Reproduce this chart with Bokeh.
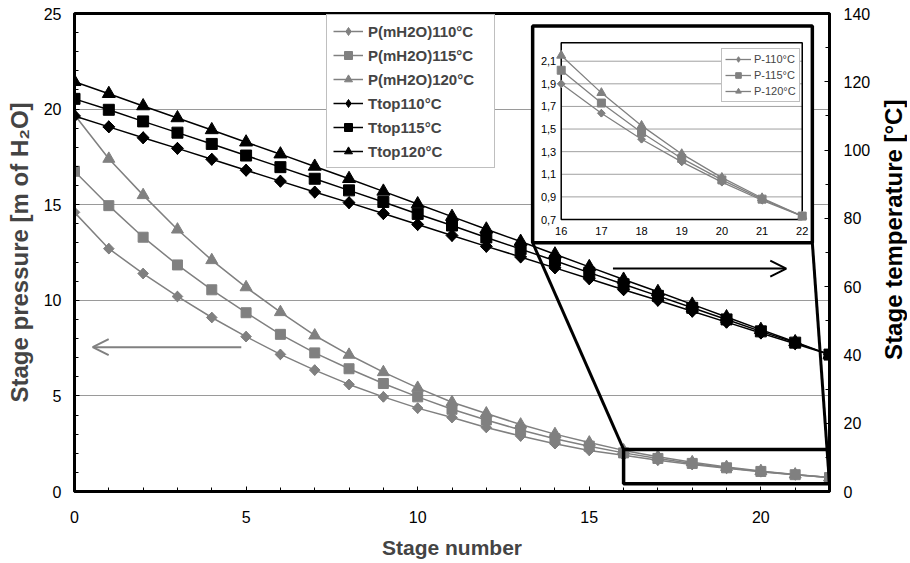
import numpy as np
from bokeh.plotting import figure
from bokeh.layouts import row
from bokeh.models import (Range1d, LinearAxis, SingleIntervalTicker, Legend, LegendItem,
                          Arrow, OpenHead)
from bokeh.embed import file_html
from bokeh.resources import INLINE
from bokeh.core.properties import value

# ---------------- data ----------------
stages = list(range(23))
p110 = [14.6, 12.7, 11.4, 10.2, 9.1, 8.1, 7.17, 6.35, 5.6, 4.95, 4.36, 3.87, 3.35, 2.9, 2.5, 2.15,
        1.90, 1.64, 1.41, 1.21, 1.03, 0.87, 0.73]
p115 = [16.75, 14.95, 13.3, 11.85, 10.55, 9.35, 8.22, 7.25, 6.42, 5.65, 4.95, 4.3, 3.74, 3.22, 2.76, 2.37,
        2.02, 1.73, 1.47, 1.24, 1.05, 0.88, 0.73]
p120 = [19.7, 17.4, 15.5, 13.7, 12.1, 10.68, 9.38, 8.16, 7.15, 6.24, 5.42, 4.67, 4.08, 3.5, 3.0, 2.56,
        2.15, 1.82, 1.53, 1.28, 1.07, 0.89, 0.73]
t110 = [110.0, 106.8, 103.6, 100.5, 97.3, 94.1, 90.9, 87.7, 84.6, 81.4, 78.2, 75.0, 71.8, 68.7, 65.5,
        62.3, 59.1, 56.0, 52.8, 49.6, 46.4, 43.3, 40.1]
t115 = [115.0, 111.8, 108.4, 105.1, 101.8, 98.4, 95.0, 91.6, 88.2, 84.8, 81.3, 77.9, 74.4, 71.0, 67.6,
        64.1, 60.7, 57.3, 53.8, 50.4, 46.9, 43.6, 40.1]
t120 = [120.0, 116.5, 112.9, 109.4, 105.9, 102.3, 98.8, 95.2, 91.6, 87.9, 84.2, 80.5, 76.8, 73.2, 69.5,
        65.8, 62.1, 58.5, 54.8, 51.1, 47.4, 43.8, 40.1]
labels_main = ["P(mH2O)110°C", "P(mH2O)115°C", "P(mH2O)120°C", "Ttop110°C", "Ttop115°C", "Ttop120°C"]
right_title = "Stage temperature [°C]"

inset_first = 16
inset_yticks = [0.7, 0.9, 1.1, 1.3, 1.5, 1.7, 1.9, 2.1]
inset_xticks = [16, 17, 18, 19, 20, 21, 22]
labels_inset = ["P-110°C", "P-115°C", "P-120°C"]

FONT = "Liberation Sans"
GRAY = "#808080"
FIG_H = 558

# ---------------- main figure ----------------
p = figure(frame_width=755, frame_height=478, x_range=Range1d(0, 22), y_range=Range1d(0, 25),
           output_backend="svg", toolbar_location=None,
           min_border_left=74, min_border_right=50, min_border_top=13, min_border_bottom=67,
           background_fill_color="white", border_fill_color="white")
p.extra_y_ranges = {"temp": Range1d(0, 140), "iy": Range1d(-1.7056, 2.5219)}
p.extra_x_ranges = {"ix": Range1d(3.883, 22.679)}

p.outline_line_color = "black"
p.outline_line_width = 3
p.xgrid.visible = False
p.ygrid.grid_line_color = "#9a9a9a"
p.ygrid.grid_line_width = 1

def style_axis(ax, label, standoff_lab, standoff_tick, label_size):
    ax.axis_label = label
    ax.axis_label_text_font = FONT
    ax.axis_label_text_font_style = "bold"
    ax.axis_label_text_font_size = label_size
    ax.axis_label_standoff = standoff_lab
    ax.major_label_text_font = FONT
    ax.major_label_text_font_size = "16px"
    ax.major_label_text_color = "black"
    ax.major_label_standoff = standoff_tick
    ax.axis_line_width = 3
    ax.axis_line_color = "black"
    ax.major_tick_in = 5
    ax.major_tick_out = 0
    ax.minor_tick_in = 4
    ax.minor_tick_out = 0
    ax.major_tick_line_color = "black"
    ax.minor_tick_line_color = "black"

p.xaxis.ticker = SingleIntervalTicker(interval=5, num_minor_ticks=5)
p.yaxis.ticker = SingleIntervalTicker(interval=5, num_minor_ticks=5)
style_axis(p.xaxis[0], "Stage number", 10, 19, "21px")
style_axis(p.yaxis[0], "Stage pressure [m of H\u2082O]", 8, 13, "24px")

rax = LinearAxis(y_range_name="temp", ticker=SingleIntervalTicker(interval=20, num_minor_ticks=2))
style_axis(rax, None, 8, 14, "24px")
p.add_layout(rax, "right")

# ---------------- series ----------------
D = np.pi / 4

def series(y, color, marker, size, angle=0.0, yr="default", xr="default", xs=None, lw=1.5,
           legend_size=None):
    xs = stages if xs is None else xs
    l = p.line(xs, y, line_color=color, line_width=lw, x_range_name=xr, y_range_name=yr)
    proxy = None
    if legend_size is not None:
        # narrow diamond hidden under the rotated square; used for the legend glyph
        proxy = p.scatter(xs, y, marker="diamond", size=legend_size, fill_color=color,
                          line_color=color, x_range_name=xr, y_range_name=yr)
    s = p.scatter(xs, y, marker=marker, size=size, angle=angle, fill_color=color, line_color=color,
                  x_range_name=xr, y_range_name=yr)
    return [l, proxy if proxy is not None else s]

r_p110 = series(p110, GRAY, "square", 7.5, D, legend_size=10.5)
r_p115 = series(p115, GRAY, "square", 10)
r_p120 = series(p120, GRAY, "triangle", 12)
r_t110 = series(t110, "black", "square", 8.5, D, yr="temp", legend_size=12)
r_t115 = series(t115, "black", "square", 11, yr="temp")
r_t120 = series(t120, "black", "triangle", 13, yr="temp")

main_legend = Legend(items=[LegendItem(label=lab, renderers=r) for lab, r in
                            zip(labels_main, [r_p110, r_p115, r_p120, r_t110, r_t115, r_t120])],
                     location=(252, 323), margin=0, padding=6, spacing=4,
                     glyph_width=30, glyph_height=20, label_height=20, label_width=120,
                     label_standoff=5,
                     label_text_font=FONT, label_text_font_style="bold", label_text_font_size="15px",
                     border_line_color=GRAY, border_line_width=1, background_fill_color="white",
                     background_fill_alpha=1)
p.add_layout(main_legend, "center")

# ---------------- zoom box, connectors, inset ----------------
zoom_box = dict(left=16, right=22, bottom=0.4, top=2.2)
inset_box = dict(left=13.35, right=21.5, bottom=13.01, top=24.34)

p.segment(x0=[zoom_box["left"], zoom_box["right"]], y0=[zoom_box["top"], zoom_box["bottom"]],
          x1=[inset_box["left"], inset_box["right"]], y1=[inset_box["bottom"], inset_box["bottom"]],
          line_color="black", line_width=3)
p.quad(**zoom_box, fill_alpha=0, line_color="black", line_width=3.5)
p.quad(**inset_box, fill_color="white", line_color="black", line_width=3.5)

p.segment(x0=[16] * len(inset_yticks), x1=[22] * len(inset_yticks), y0=inset_yticks, y1=inset_yticks,
          x_range_name="ix", y_range_name="iy", line_color="#a0a0a0", line_width=1)
p.quad(left=16, right=22, bottom=0.7, top=2.263, x_range_name="ix", y_range_name="iy",
       fill_alpha=0, line_color="black", line_width=1.5)

ylab = [f"{t:.1f}".replace(".", ",") for t in inset_yticks]
p.text(x=[16] * len(inset_yticks), y=inset_yticks, text=ylab, x_range_name="ix", y_range_name="iy",
       text_align="right", text_baseline="middle", x_offset=-5, text_font=value(FONT),
       text_font_size="11px", text_color="black")
p.text(x=inset_xticks, y=[0.7] * len(inset_xticks), text=[str(t) for t in inset_xticks],
       x_range_name="ix", y_range_name="iy", text_align="center", text_baseline="top", y_offset=7,
       text_font=value(FONT), text_font_size="11px", text_color="black")

xs_in = stages[inset_first:]
i110 = series(p110[inset_first:], GRAY, "square", 5.5, D, xr="ix", yr="iy", xs=xs_in, lw=1.3,
              legend_size=7.5)
i115 = series(p115[inset_first:], GRAY, "square", 8, xr="ix", yr="iy", xs=xs_in, lw=1.3)
i120 = series(p120[inset_first:], GRAY, "triangle", 9, xr="ix", yr="iy", xs=xs_in, lw=1.3)

inset_legend = Legend(items=[LegendItem(label=lab, renderers=r) for lab, r in
                             zip(labels_inset, [i110, i115, i120])],
                      location=(647, 389), margin=0, padding=3, spacing=2,
                      glyph_width=26, glyph_height=14, label_height=14, label_standoff=3,
                      label_text_font=FONT, label_text_font_size="11px",
                      border_line_color=GRAY, border_line_width=1, background_fill_color="white",
                      background_fill_alpha=1)
p.add_layout(inset_legend, "center")

# ---------------- direction arrows ----------------
p.add_layout(Arrow(end=OpenHead(size=16, line_color=GRAY, line_width=2),
                   x_start=4.86, y_start=7.55, x_end=0.53, y_end=7.55,
                   line_color=GRAY, line_width=2))
p.add_layout(Arrow(end=OpenHead(size=16, line_color="black", line_width=2),
                   x_start=15.69, y_start=65.3, x_end=20.74, y_end=65.3, y_range_name="temp",
                   line_color="black", line_width=2))

# ---------------- narrow strip carrying the right-axis title (reads bottom-to-top) ----------------
strip = figure(width=28, height=FIG_H, x_range=Range1d(0, 28), y_range=Range1d(0, FIG_H),
               output_backend="svg", toolbar_location=None, x_axis_type=None, y_axis_type=None,
               min_border=0, outline_line_color=None, background_fill_color="white",
               border_fill_color="white")
strip.grid.visible = False
strip.text(x=[14], y=[FIG_H - 254], text=[right_title], angle=np.pi / 2, text_align="center",
           text_baseline="middle", text_font=value(FONT), text_font_style="bold",
           text_font_size="24px", text_color="black")

open("out.html", "w").write(file_html(row(p, strip, spacing=0), INLINE))
